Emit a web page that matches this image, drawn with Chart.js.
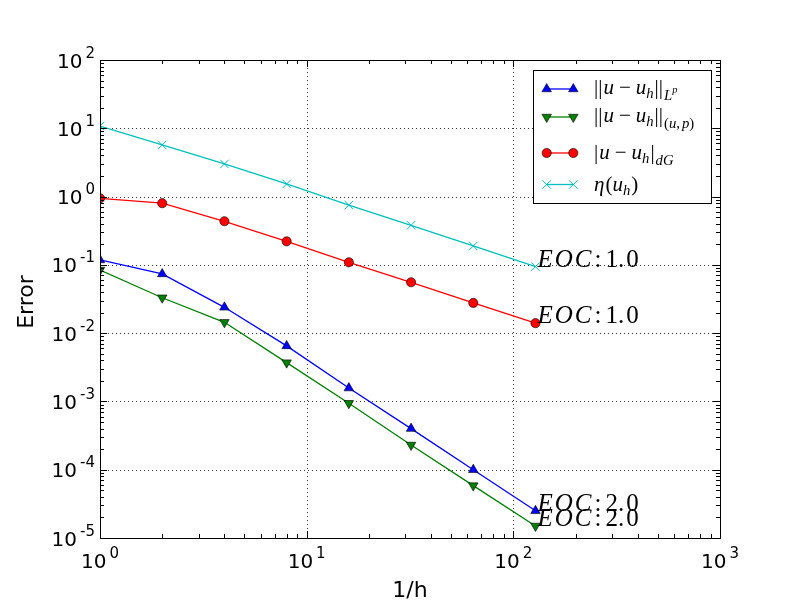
<!DOCTYPE html>
<html>
<head>
<meta charset="utf-8">
<script src="https://cdn.jsdelivr.net/npm/chart.js@4/dist/chart.umd.min.js"></script>
<style>
  body { margin: 0; background: #fff; }
  canvas { display: block; }
</style>
</head>
<body>
<canvas id="myChart" width="800" height="600"></canvas>
<script>
    // 1/h values and errors
    const invH = [1, 2, 4, 8, 16, 32, 64, 128];
    const errLp = [0.118, 0.0736, 0.0239, 0.0065, 0.00157, 0.00040, 0.000100, 0.000025];
    const errUp = [0.084, 0.033, 0.0144, 0.0037, 0.00094, 0.00023, 0.0000585, 0.0000150];
    const errDG = [0.944, 0.80, 0.435, 0.221, 0.109, 0.0556, 0.0277, 0.0140];
    const eta = [10.8, 5.7, 3.0, 1.53, 0.75, 0.38, 0.189, 0.094];
    const eocLabels = ['2.0', '2.0', '1.0', '1.0'];

    const xExp = [0, 1, 2, 3];
    const yExp = [-5, -4, -3, -2, -1, 0, 1, 2];

    const serif = '"Liberation Serif", "DejaVu Serif", serif';
    const sans = '"DejaVu Sans", sans-serif';

    function pts(ys) {
        return invH.map((x, i) => ({x: x, y: ys[i]}));
    }

    const series = [
        {data: errLp, color: '#0000ff', style: 'triangle', rot: 0, r: 5.5, edge: '#000'},
        {data: errUp, color: '#008000', style: 'triangle', rot: 180, r: 5.5, edge: '#000'},
        {data: errDG, color: '#ff0000', style: 'circle', rot: 0, r: 4.6, edge: '#000'},
        {data: eta, color: '#00bfbf', style: 'crossRot', rot: 0, r: 6, edge: '#00bfbf'}
    ];

    // legend texts as pieces: [text, italic, level, gap after]
    // level 0 = normal, 1 = sub, 2 = tiny sup of sub, 3 = low sub
    const legendRows = [
        [['||', 0, 0, 1], ['u', 1, 0, 5], ['\u2212', 0, 0, 5], ['u', 1, 0, 0], ['h', 1, 1, 1], ['||', 0, 0, 1], ['L', 1, 3, 0], ['p', 1, 2, 0]],
        [['||', 0, 0, 1], ['u', 1, 0, 5], ['\u2212', 0, 0, 5], ['u', 1, 0, 0], ['h', 1, 1, 1], ['||', 0, 0, 1], ['(', 0, 3, 0], ['u', 1, 3, 0], [',', 0, 3, 2], ['p', 1, 3, 0], [')', 0, 3, 0]],
        [['|', 0, 0, 1], ['u', 1, 0, 5], ['\u2212', 0, 0, 5], ['u', 1, 0, 0], ['h', 1, 1, 1], ['|', 0, 0, 1], ['dG', 1, 3, 0]],
        [['\u03b7', 1, 0, 1], ['(', 0, 0, 0], ['u', 1, 0, 0], ['h', 1, 1, 1], [')', 0, 0, 0]]
    ];
    const legendMarkY = [89, 117, 153, 184.5];
    const legendBaseY = [94, 122, 158.5, 190.5];

    const data = {
        datasets: series.map(s => ({
            data: pts(s.data),
            borderColor: s.color,
            backgroundColor: s.color,
            borderWidth: 1.3,
            pointStyle: s.style,
            pointRotation: s.rot,
            pointRadius: s.r,
            pointBorderColor: s.edge,
            pointBorderWidth: s.style === 'crossRot' ? 1 : 0.6,
            pointBackgroundColor: s.color,
            clip: 0,
            tension: 0
        }))
    };

    function drawMath(ctx, pieces, x, y, size) {
        pieces.forEach(p => {
            let fs = size, dy = 0;
            if (p[2] === 1) { fs = size * 0.7; dy = 4; }
            if (p[2] === 3) { fs = size * 0.7; dy = 6; }
            if (p[2] === 2) { fs = size * 0.5; dy = -1; }
            ctx.font = (p[1] ? 'italic ' : '') + fs + 'px ' + serif;
            ctx.fillText(p[0], x, y + dy);
            x += ctx.measureText(p[0]).width + (p[3] || 0);
        });
    }

    const decor = {
        id: 'decor',
        beforeDatasetsDraw(chart) {
            const ctx = chart.ctx, a = chart.chartArea;
            const xs = chart.scales.x, ys = chart.scales.y;
            ctx.save();
            ctx.strokeStyle = '#000';
            ctx.lineWidth = 0.8;
            ctx.setLineDash([1, 3]);
            xExp.forEach(e => {
                const px = Math.round(xs.getPixelForValue(Math.pow(10, e))) + 0.5;
                ctx.beginPath(); ctx.moveTo(px, a.top); ctx.lineTo(px, a.bottom); ctx.stroke();
            });
            yExp.forEach(e => {
                const py = Math.round(ys.getPixelForValue(Math.pow(10, e))) + 0.5;
                ctx.beginPath(); ctx.moveTo(a.left, py); ctx.lineTo(a.right, py); ctx.stroke();
            });
            ctx.restore();
        },
        afterDraw(chart) {
            const ctx = chart.ctx, a = chart.chartArea;
            const xs = chart.scales.x, ys = chart.scales.y;
            ctx.save();
            ctx.strokeStyle = '#000';
            ctx.fillStyle = '#000';
            ctx.lineWidth = 1;

            //ticks on all four sides
            for (let e = 0; e <= 3; e++) {
                for (let m = 1; m <= 9; m++) {
                    if (e === 3 && m > 1) break;
                    const px = Math.round(xs.getPixelForValue(m * Math.pow(10, e))) + 0.5;
                    const len = m === 1 ? 7 : 4;
                    ctx.beginPath();
                    ctx.moveTo(px, a.bottom); ctx.lineTo(px, a.bottom - len);
                    ctx.moveTo(px, a.top); ctx.lineTo(px, a.top + len);
                    ctx.stroke();
                }
            }
            for (let e = -5; e <= 2; e++) {
                for (let m = 1; m <= 9; m++) {
                    if (e === 2 && m > 1) break;
                    const py = Math.round(ys.getPixelForValue(m * Math.pow(10, e))) + 0.5;
                    const len = m === 1 ? 7 : 4;
                    ctx.beginPath();
                    ctx.moveTo(a.left, py); ctx.lineTo(a.left + len, py);
                    ctx.moveTo(a.right, py); ctx.lineTo(a.right - len, py);
                    ctx.stroke();
                }
            }
            ctx.strokeRect(Math.round(a.left) + 0.5, Math.round(a.top) + 0.5,
                Math.round(a.right - a.left), Math.round(a.bottom - a.top));

            //tick labels 10^n
            ctx.textAlign = 'left';
            ctx.textBaseline = 'alphabetic';
            xExp.forEach(e => {
                const px = xs.getPixelForValue(Math.pow(10, e));
                ctx.font = '20px ' + sans;
                const bw = ctx.measureText('10').width;
                ctx.font = '15px ' + sans;
                const ew = ctx.measureText(String(e)).width;
                const x0 = px - (bw + 3 + ew) / 2;
                ctx.font = '20px ' + sans;
                ctx.fillText('10', x0, 568);
                ctx.font = '15px ' + sans;
                ctx.fillText(String(e), x0 + bw + 3, 558);
            });
            yExp.forEach(e => {
                const py = ys.getPixelForValue(Math.pow(10, e));
                ctx.font = '15px ' + sans;
                const ew = ctx.measureText(String(e)).width;
                ctx.font = '20px ' + sans;
                const bw = ctx.measureText('10').width;
                const x0 = 95 - ew - 3 - bw;
                ctx.fillText('10', x0, py + 7.5);
                ctx.font = '15px ' + sans;
                ctx.fillText(String(e), x0 + bw + 3, py - 2.5);
            });

            //axis titles
            ctx.font = '22px ' + sans;
            ctx.textAlign = 'center';
            ctx.fillText('1/h', (a.left + a.right) / 2, 597);
            ctx.save();
            ctx.translate(33, (a.top + a.bottom) / 2 + 3);
            ctx.rotate(-Math.PI / 2);
            ctx.fillText('Error', 0, 0);
            ctx.restore();

            //EOC notes at last points
            ctx.textAlign = 'left';
            series.forEach((s, i) => {
                const n = s.data.length - 1;
                const px = xs.getPixelForValue(invH[n]);
                const py = ys.getPixelForValue(s.data[n]);
                const v = eocLabels[i].split('.');
                drawMath(ctx, [['E', 1, 0, 2], ['O', 1, 0, 2], ['C', 1, 0, 3], [':', 0, 0, 4],
                    [v[0] + '.', 0, 0, 2], [v[1], 0, 0, 0]], px + 2, py, 25);
            });

            //legend
            const lx = 533.5, ly = 70.5, lw = 178, lh = 133;
            ctx.fillStyle = '#fff';
            ctx.fillRect(lx, ly, lw, lh);
            ctx.strokeStyle = '#000';
            ctx.lineWidth = 1;
            ctx.strokeRect(lx, ly, lw, lh);
            series.forEach((s, i) => {
                const y = legendMarkY[i];
                ctx.strokeStyle = s.color;
                ctx.lineWidth = 1.3;
                ctx.beginPath(); ctx.moveTo(546.7, y); ctx.lineTo(573.3, y); ctx.stroke();
                [546.7, 573.3].forEach(mx => {
                    ctx.fillStyle = s.color;
                    ctx.strokeStyle = s.edge;
                    ctx.lineWidth = s.style === 'crossRot' ? 1 : 0.6;
                    Chart.helpers.drawPoint(ctx, {pointStyle: s.style, rotation: s.rot, radius: s.r, borderWidth: ctx.lineWidth}, mx, y);
                });
                ctx.fillStyle = '#000';
                drawMath(ctx, legendRows[i], 594, legendBaseY[i], 21);
            });
            ctx.restore();
        }
    };

    const config = {
        type: 'line',
        data: data,
        options: {
            responsive: false,
            animation: false,
            devicePixelRatio: 1,
            layout: {padding: {left: 100, right: 80, top: 60, bottom: 62}},
            plugins: {legend: {display: false}, tooltip: {enabled: false}},
            scales: {
                x: {type: 'logarithmic', min: 1, max: 1000, display: false},
                y: {type: 'logarithmic', min: 1e-5, max: 100, display: false}
            }
        },
        plugins: [decor]
    };

    const myChart = new Chart(document.getElementById('myChart'), config);
</script>
</body>
</html>
